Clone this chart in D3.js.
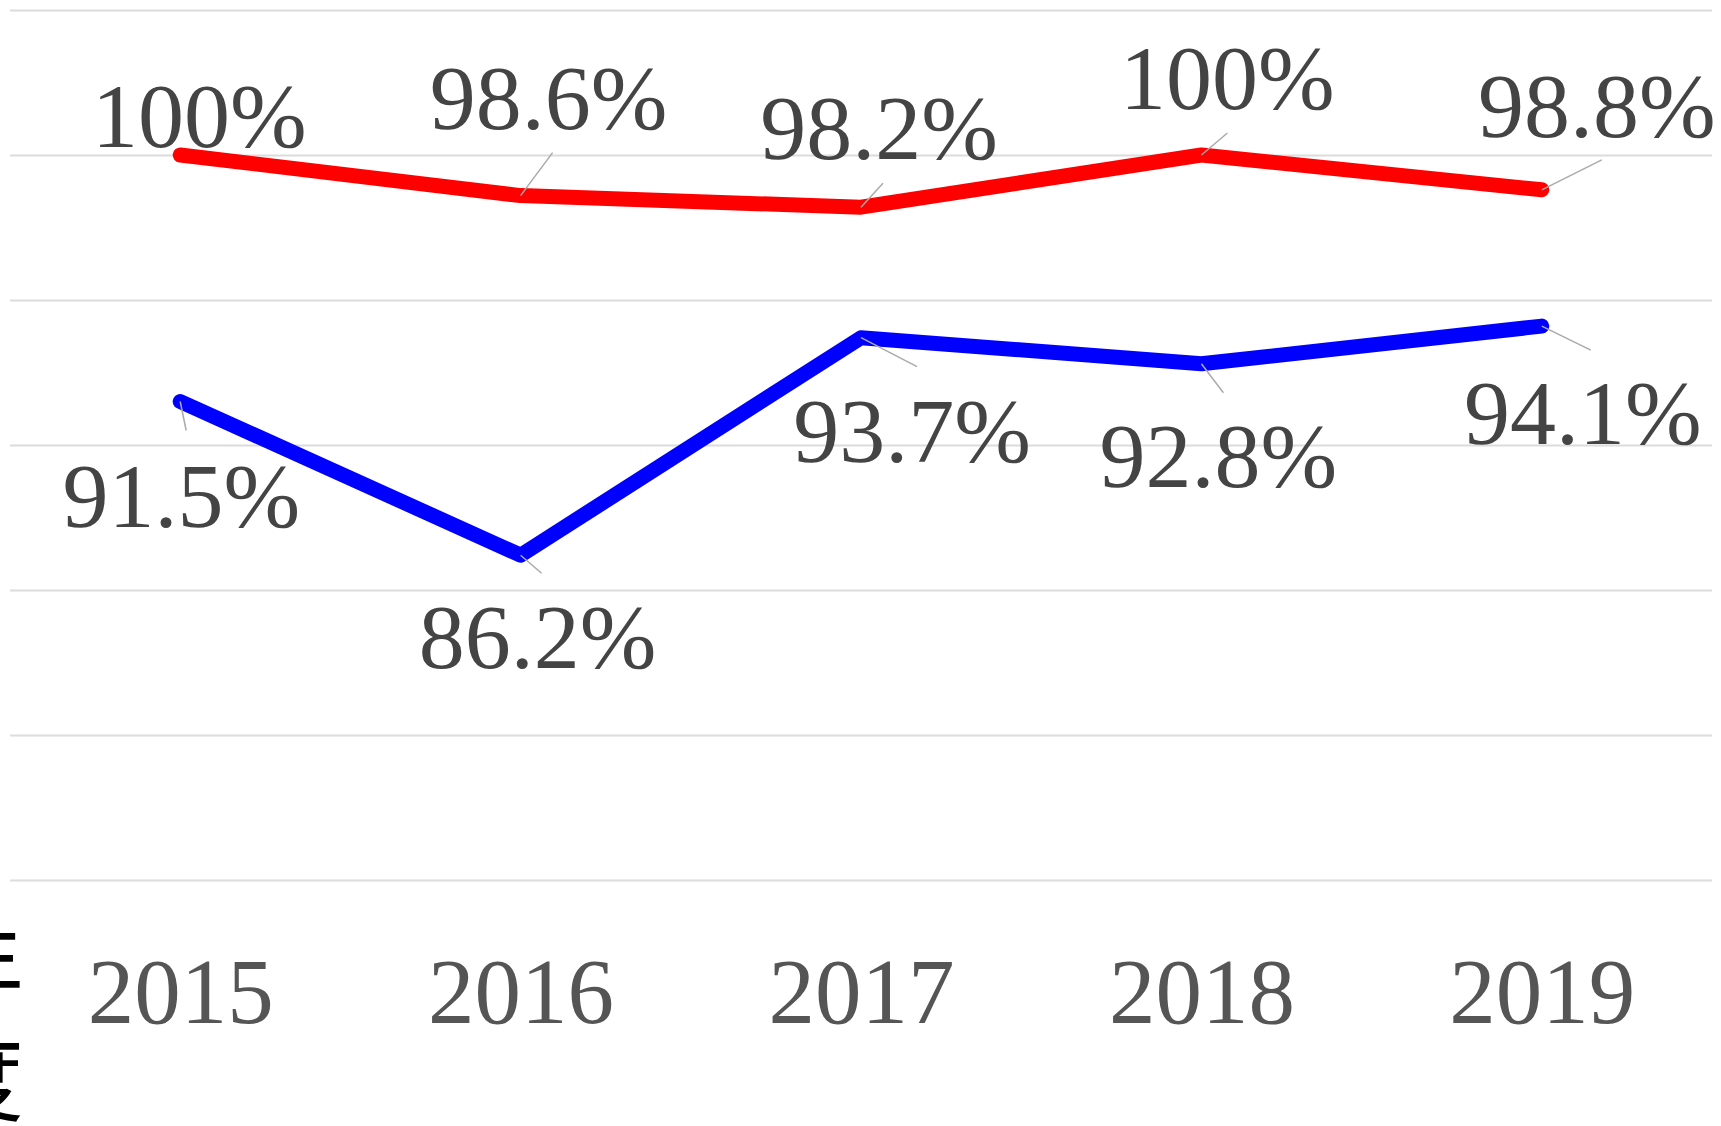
<!DOCTYPE html>
<html>
<head>
<meta charset="utf-8">
<script src="https://cdn.jsdelivr.net/npm/d3@7"></script>
<style>
  html, body { margin: 0; padding: 0; background: #fff; }
  svg { display: block; }
</style>
</head>
<body>
<svg id="chart" width="1721" height="1126"></svg>
<script>
// ---- data ----
const categories = ['2015', '2016', '2017', '2018', '2019'];
const redValues  = [100, 98.6, 98.2, 100, 98.8];
const blueValues = [91.5, 86.2, 93.7, 92.8, 94.1];
const yTicks     = [75, 80, 85, 90, 95, 100, 105];
const axisNameChars = ['年', '度'];

// ---- label layout (offsets from the data point, in px) ----
const redLabelOffsets  = [[19, -8], [28, -67], [18, -48], [26, -46], [55, -53]];
const redLeaderEnds    = [null, [32, -43], [22, -24], [26, -22], [60, -30]];
const blueLabelOffsets = [[1, 125], [17, 113], [51, 124], [17, 123], [41, 118]];
const blueLeaderEnds   = [[6, 29], [21, 18], [56, 29], [22, 29], [49, 24]];

(function () {
const svg = d3.select('#chart');
const plotLeft = 10, plotRight = 1712, plotTop = 10, plotBottom = 880;

const x = d3.scalePoint().domain(categories).range([plotLeft, plotRight]).padding(0.5);
const y = d3.scaleLinear().domain([75, 105]).range([plotBottom, plotTop]);

// grid
const grid = svg.append('g')
  .attr('transform', `translate(${plotLeft},0)`)
  .call(d3.axisLeft(y).tickValues(yTicks).tickSize(-(plotRight - plotLeft)).tickFormat(''));
grid.select('.domain').remove();
grid.selectAll('.tick line').attr('stroke', '#dcdcdc').attr('stroke-width', 2);

// x axis
const xAxis = svg.append('g')
  .attr('transform', `translate(0,${plotBottom})`)
  .call(d3.axisBottom(x).tickSize(0));
xAxis.select('.domain').remove();
xAxis.selectAll('.tick text')
  .attr('y', 143).attr('dy', 0)
  .attr('font-family', '"Liberation Serif", "Times New Roman", serif')
  .attr('font-size', 93)
  .attr('fill', '#555');

// axis name (mostly clipped at left edge)
svg.selectAll('text.axisname').data(axisNameChars).enter().append('text')
  .attr('class', 'axisname')
  .attr('x', 24)
  .attr('y', (d, i) => 1002 + i * 112)
  .attr('text-anchor', 'end')
  .attr('font-family', '"Noto Sans CJK SC", sans-serif')
  .attr('font-size', 95)
  .attr('fill', '#000')
  .text(d => d);

const line = d3.line()
  .x((d, i) => x(categories[i]))
  .y(d => y(d));

function drawSeries(values, color, labelOffsets, leaderEnds) {
  const g = svg.append('g');
  g.append('path')
    .datum(values)
    .attr('d', line)
    .attr('fill', 'none')
    .attr('stroke', color)
    .attr('stroke-width', 15)
    .attr('stroke-linecap', 'round')
    .attr('stroke-linejoin', 'round');
  values.forEach((v, i) => {
    const px = x(categories[i]), py = y(v);
    if (leaderEnds[i]) {
      g.append('line')
        .attr('x1', px).attr('y1', py)
        .attr('x2', px + leaderEnds[i][0]).attr('y2', py + leaderEnds[i][1])
        .attr('stroke', '#aaa').attr('stroke-width', 1.5);
    }
  });
  g.selectAll('text.lbl').data(values).enter().append('text')
    .attr('class', 'lbl')
    .attr('x', (v, i) => x(categories[i]) + labelOffsets[i][0])
    .attr('y', (v, i) => y(v) + labelOffsets[i][1])
    .attr('text-anchor', 'middle')
    .attr('font-family', '"Liberation Serif", "Times New Roman", serif')
    .attr('font-size', 92)
    .attr('fill', '#444')
    .text(v => v + '%');
}

drawSeries(redValues, '#ff0000', redLabelOffsets, redLeaderEnds);
drawSeries(blueValues, '#0000ff', blueLabelOffsets, blueLeaderEnds);
})();
</script>
</body>
</html>
